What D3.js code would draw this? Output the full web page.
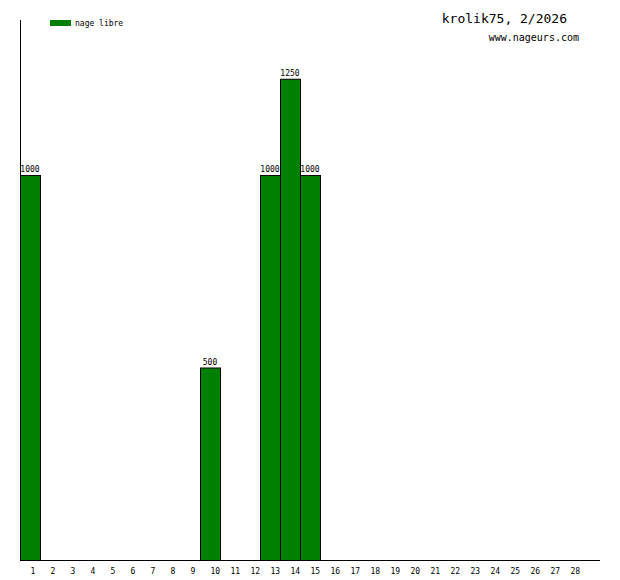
<!DOCTYPE html>
<html><head><meta charset="utf-8">
<script src="https://cdn.jsdelivr.net/npm/d3@7"></script>
<style>body{margin:0;background:#fff}svg{display:block}</style>
</head><body>
<script>
const days = d3.range(1, 29);
const values = [1000,0,0,0,0,0,0,0,0,500,0,0,1000,1250,1000,0,0,0,0,0,0,0,0,0,0,0,0,0];
const seriesName = "nage libre";
const title = "krolik75, 2/2026";
const site = "www.nageurs.com";

const W = 620, H = 580;
const svg = d3.select("body").append("svg").attr("width", W).attr("height", H);
const mono = "'DejaVu Sans Mono', monospace";

const x = d3.scaleBand().domain(days).range([20, 580]).padding(0);
const y = d3.scaleLinear().domain([0, 1402.6]).range([560, 20]);

// bars
svg.selectAll("rect.bar").data(days.filter((d,i)=>values[i]>0)).enter().append("rect")
  .attr("x", d => x(d) + 0.5).attr("y", d => y(values[d-1]) + 0.5)
  .attr("width", x.bandwidth()).attr("height", d => y(0) - y(values[d-1]))
  .attr("fill", "#007f00").attr("stroke", "#000").attr("stroke-width", 1);

// value labels
svg.selectAll("text.val").data(days.filter((d,i)=>values[i]>0)).enter().append("text")
  .attr("x", d => x(d) + x.bandwidth()/2).attr("y", d => y(values[d-1]) - 3)
  .attr("text-anchor", "middle").attr("font-family", mono).attr("font-size", 8)
  .text(d => values[d-1]);

// axes lines
svg.append("line").attr("x1", 20.5).attr("x2", 20.5).attr("y1", 20).attr("y2", 560.5).attr("stroke", "#000");
svg.append("line").attr("x1", 20).attr("x2", 600).attr("y1", 560.5).attr("y2", 560.5).attr("stroke", "#000");

// x tick labels
const xAxis = d3.axisBottom(x).tickSize(0).tickPadding(0);
const gx = svg.append("g").attr("transform", "translate(0.5,568)").call(xAxis);
gx.select(".domain").remove();
gx.selectAll("text").attr("font-family", mono).attr("font-size", 8).attr("fill", "#000")
  .attr("dy", "0.71em").attr("text-anchor", "start");

// legend
svg.append("rect").attr("x", 50).attr("y", 20).attr("width", 21).attr("height", 6).attr("fill", "#007f00");
svg.append("text").attr("x", 75).attr("y", 25.5).attr("font-family", mono).attr("font-size", 8).text(seriesName);

// title
svg.append("text").attr("x", 567).attr("y", 23).attr("text-anchor", "end").attr("font-family", mono).attr("font-size", 13).text(title);
svg.append("text").attr("x", 579).attr("y", 41).attr("text-anchor", "end").attr("font-family", mono).attr("font-size", 10).text(site);
</script>
</body></html>
